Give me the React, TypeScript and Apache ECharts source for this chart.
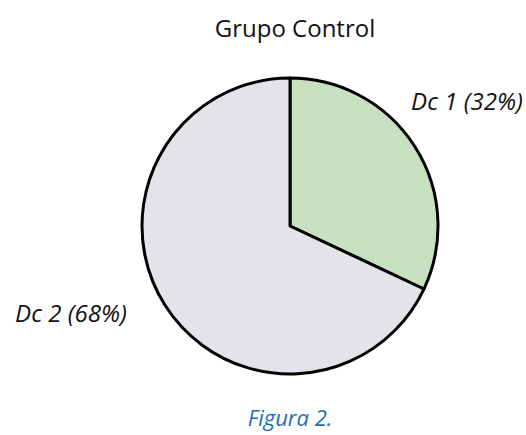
import React, { useEffect, useRef } from "react";
import * as echarts from "echarts";

const categories = ["Dc 1", "Dc 2"];
const values = [32, 68];
const colors = ["#c6e0c0", "#e3e4e9"];
const labelPos = [
  { x: 467, y: 100 },
  { x: 71, y: 312 },
];

export default function App() {
  const ref = useRef<HTMLDivElement>(null);
  useEffect(() => {
    if (!ref.current) return;
    const chart = echarts.init(ref.current, null, { renderer: "svg" });
    const font = "'Open Sans', sans-serif";
    chart.setOption({
      animation: false,
      backgroundColor: "#ffffff",
      title: {
        text: "Grupo Control",
        left: 290,
        top: 10,
        textAlign: "center",
        textStyle: { fontFamily: font, fontSize: 24, fontWeight: "normal", color: "#111" },
      },
      graphic: [
        {
          type: "text",
          x: 290,
          y: 417,
          style: {
            text: "Figura 2.",
            x: 0,
            y: 0,
            align: "center",
            verticalAlign: "middle",
            font: `italic 22px ${font}`,
            fill: "#1f6db3",
          },
        },
      ],
      series: [
        {
          type: "pie",
          center: [290, 226],
          radius: [0, 148],
          startAngle: 90,
          clockwise: true,
          silent: true,
          itemStyle: { borderColor: "#000", borderWidth: 3 },
          label: {
            show: true,
            position: "inside",
            overflow: "none",
            formatter: (p: any) => `${p.name} (${p.value}%)`,
            fontFamily: font,
            fontStyle: "italic",
            fontSize: 24,
            color: "#111",
          },
          labelLine: { show: false },
          labelLayout: (p: any) => ({
            x: labelPos[p.dataIndex].x,
            y: labelPos[p.dataIndex].y,
            align: "center",
            verticalAlign: "middle",
          }),
          data: categories.map((c, i) => ({
            name: c,
            value: values[i],
            itemStyle: { color: colors[i] },
          })),
        },
      ],
    });
    return () => chart.dispose();
  }, []);
  return <div ref={ref} style={{ width: 526, height: 435, position: "absolute", left: 0, top: 0 }} />;
}
